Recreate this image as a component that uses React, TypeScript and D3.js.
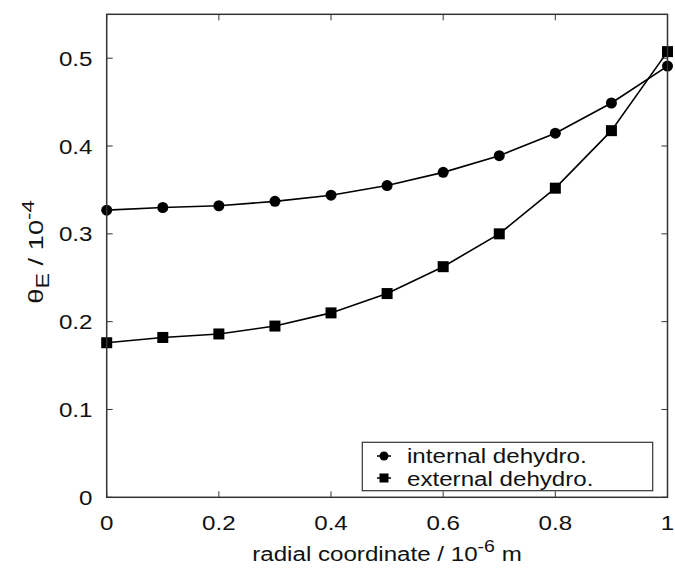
import React from "react";
import * as d3 from "d3";

const radial = [0, 0.1, 0.2, 0.3, 0.4, 0.5, 0.6, 0.7, 0.8, 0.9, 1.0];
const internalDehydro = [0.327, 0.330, 0.332, 0.337, 0.344, 0.355, 0.370, 0.389, 0.4146, 0.449, 0.491];
const externalDehydro = [0.176, 0.182, 0.186, 0.195, 0.210, 0.232, 0.2626, 0.300, 0.352, 0.4175, 0.5075];
const xTicks = [0, 0.2, 0.4, 0.6, 0.8, 1];
const yTicks = [0, 0.1, 0.2, 0.3, 0.4, 0.5];
const xTickLabels = ["0", "0.2", "0.4", "0.6", "0.8", "1"];
const yTickLabels = ["0", "0.1", "0.2", "0.3", "0.4", "0.5"];
const legendLabels = ["internal dehydro.", "external dehydro."];

const W = 675, H = 571;
const L = 106.7, R = 667.5, T = 14.3, B = 497.3;
const FONT = "'Liberation Sans', Arial, Helvetica, sans-serif";
const SX = 1.15;

function T2({ x, y, anchor = "start", size = 21, children }: any) {
  return (
    <g transform={`translate(${x},${y}) scale(${SX},1)`}>
      <text x={0} y={0} textAnchor={anchor} fontSize={size} fill="#111">{children}</text>
    </g>
  );
}

export default function App() {
  const x = d3.scaleLinear().domain([0, 1]).range([L, R]);
  const y = d3.scaleLinear().domain([0, 0.55]).range([B, T]);
  const line = d3.line<number>().x((_, i) => x(radial[i])).y(d => y(d));
  const tickLen = 6;
  const axisColor = "#333";
  const sq = 11;

  return (
    <svg width={W} height={H} style={{ position: "absolute", left: 0, top: 0 }} fontFamily={FONT}>
      <rect x={0} y={0} width={W} height={H} fill="#fff" />
      {xTicks.map((t, i) => (
        <g key={"xt" + i}>
          <line x1={x(t)} x2={x(t)} y1={B} y2={B - tickLen} stroke={axisColor} strokeWidth={1} />
          <line x1={x(t)} x2={x(t)} y1={T} y2={T + tickLen} stroke={axisColor} strokeWidth={1} />
          <T2 x={x(t)} y={530} anchor="middle">{xTickLabels[i]}</T2>
        </g>
      ))}
      {yTicks.map((t, i) => (
        <g key={"yt" + i}>
          <line x1={L} x2={L + tickLen} y1={y(t)} y2={y(t)} stroke={axisColor} strokeWidth={1} />
          <line x1={R} x2={R - tickLen} y1={y(t)} y2={y(t)} stroke={axisColor} strokeWidth={1} />
          <T2 x={92.5} y={y(t) + 7.5} anchor="end">{yTickLabels[i]}</T2>
        </g>
      ))}
      <path d={line(internalDehydro) || ""} fill="none" stroke="#000" strokeWidth={1.6} />
      <path d={line(externalDehydro) || ""} fill="none" stroke="#000" strokeWidth={1.6} />
      {internalDehydro.map((v, i) => (
        <circle key={"c" + i} cx={x(radial[i])} cy={y(v)} r={5.5} fill="#000" />
      ))}
      {externalDehydro.map((v, i) => (
        <rect key={"s" + i} x={x(radial[i]) - sq / 2} y={y(v) - sq / 2} width={sq} height={sq} fill="#000" />
      ))}
      <rect x={L} y={T} width={R - L} height={B - T} fill="none" stroke={axisColor} strokeWidth={1.5} />
      <rect x={362.3} y={442.3} width={290.4} height={48.4} fill="#fff" stroke={axisColor} strokeWidth={1.2} />
      <circle cx={384} cy={456} r={4.5} fill="#000" />
      <line x1={377} x2={391} y1={456} y2={456} stroke="#000" strokeWidth={1.5} />
      <rect x={384 - 4.5} y={478 - 4.5} width={9} height={9} fill="#000" />
      <line x1={377} x2={391} y1={478} y2={478} stroke="#000" strokeWidth={1.5} />
      <T2 x={407} y={463}>{legendLabels[0]}</T2>
      <T2 x={407} y={486}>{legendLabels[1]}</T2>
      <T2 x={387} y={561} anchor="middle">
        radial coordinate / 10<tspan dy={-9} fontSize={17}>-6</tspan><tspan dy={9}> m</tspan>
      </T2>
      <g transform={`translate(43,252) rotate(-90) scale(1.3,1)`}>
        <text x={0} y={0} textAnchor="middle" fontSize={21} fill="#111">
          θ<tspan dy={6} fontSize={18}>E</tspan><tspan dy={-6}> / 10</tspan><tspan dy={-9} fontSize={17}>-4</tspan>
        </text>
      </g>
    </svg>
  );
}
